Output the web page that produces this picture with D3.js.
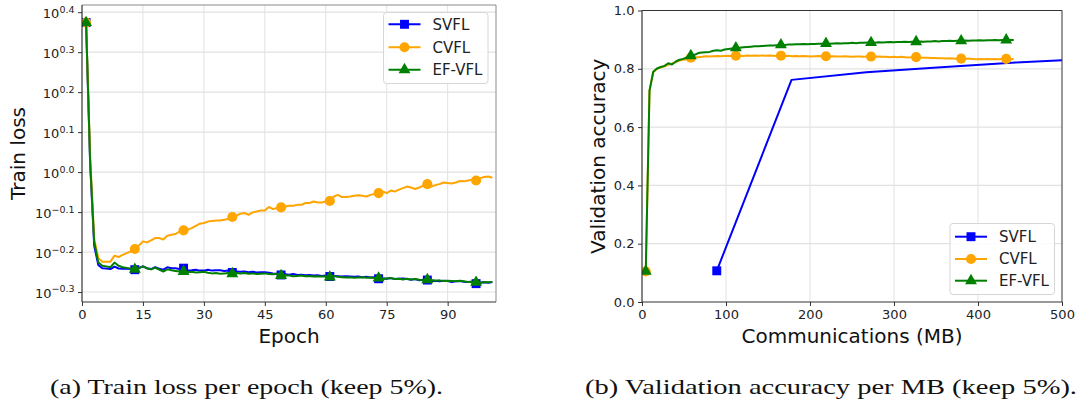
<!DOCTYPE html>
<html>
<head>
<meta charset="utf-8">
<script src="https://cdnjs.cloudflare.com/ajax/libs/d3/7.8.5/d3.min.js"></script>
<style>
  body { margin: 0; background: #fff; }
  svg { display: block; font-family: "DejaVu Sans", sans-serif; }
</style>
</head>
<body>
<div id="chart"></div>
<script>
var svgWidth = 1082;
var svgHeight = 410;

// ---- data ----
var seriesNames = ["SVFL", "CVFL", "EF-VFL"];
var seriesColors = ["#0000ff", "#ffa500", "#008000"];

// (a) train loss per epoch, epochs 1..101
var svflLoss = [2.366, 1.05, 0.655, 0.586, 0.575, 0.574, 0.572, 0.580, 0.574, 0.573,
  0.573, 0.572, 0.570, 0.575, 0.581, 0.575, 0.572, 0.578, 0.573, 0.570,
  0.578, 0.575, 0.575, 0.572, 0.575, 0.567, 0.568, 0.570, 0.567, 0.567,
  0.570, 0.567, 0.568, 0.568, 0.566, 0.567, 0.561, 0.564, 0.563, 0.564,
  0.562, 0.563, 0.561, 0.562, 0.562, 0.560, 0.558, 0.557, 0.553, 0.555,
  0.554, 0.556, 0.553, 0.554, 0.552, 0.553, 0.551, 0.552, 0.550, 0.551,
  0.548, 0.550, 0.549, 0.548, 0.549, 0.548, 0.547, 0.548, 0.546, 0.547,
  0.545, 0.546, 0.541, 0.542, 0.541, 0.543, 0.540, 0.541, 0.542, 0.540,
  0.538, 0.540, 0.536, 0.538, 0.537, 0.534, 0.535, 0.533, 0.535, 0.534,
  0.531, 0.533, 0.534, 0.532, 0.531, 0.532, 0.526, 0.529, 0.530, 0.529, 0.531];

var cvflLoss = [2.366, 1.09, 0.68, 0.61, 0.597, 0.597, 0.597, 0.618, 0.613, 0.621,
  0.627, 0.633, 0.642, 0.655, 0.671, 0.667, 0.675, 0.684, 0.684, 0.678,
  0.693, 0.697, 0.700, 0.710, 0.715, 0.718, 0.724, 0.734, 0.743, 0.746,
  0.752, 0.755, 0.757, 0.757, 0.760, 0.763, 0.772, 0.778, 0.787, 0.790,
  0.782, 0.793, 0.797, 0.802, 0.802, 0.818, 0.808, 0.813, 0.816, 0.820,
  0.824, 0.824, 0.828, 0.828, 0.837, 0.837, 0.844, 0.839, 0.839, 0.844,
  0.847, 0.869, 0.877, 0.866, 0.866, 0.869, 0.873, 0.875, 0.873, 0.869,
  0.877, 0.881, 0.886, 0.894, 0.886, 0.899, 0.894, 0.904, 0.912, 0.920,
  0.915, 0.907, 0.915, 0.925, 0.933, 0.920, 0.928, 0.933, 0.942, 0.939,
  0.936, 0.942, 0.950, 0.948, 0.953, 0.957, 0.953, 0.966, 0.972, 0.975, 0.968];

var efvflLoss = [2.366, 1.07, 0.67, 0.595, 0.583, 0.581, 0.578, 0.594, 0.583, 0.578,
  0.576, 0.573, 0.571, 0.575, 0.581, 0.574, 0.571, 0.577, 0.570, 0.564,
  0.571, 0.568, 0.566, 0.564, 0.564, 0.562, 0.563, 0.561, 0.562, 0.563,
  0.560, 0.558, 0.559, 0.557, 0.558, 0.559, 0.557, 0.559, 0.558, 0.559,
  0.557, 0.558, 0.556, 0.557, 0.558, 0.556, 0.555, 0.557, 0.551, 0.552,
  0.551, 0.549, 0.550, 0.551, 0.549, 0.550, 0.548, 0.549, 0.548, 0.549,
  0.546, 0.550, 0.547, 0.546, 0.545, 0.546, 0.544, 0.545, 0.546, 0.544,
  0.545, 0.543, 0.543, 0.541, 0.542, 0.543, 0.540, 0.541, 0.539, 0.541,
  0.539, 0.540, 0.538, 0.536, 0.538, 0.537, 0.535, 0.536, 0.534, 0.535,
  0.534, 0.533, 0.535, 0.533, 0.531, 0.532, 0.530, 0.529, 0.531, 0.530, 0.531];

// (b) validation accuracy vs communication
var svflMB = [89, 178, 267, 356, 445, 534];
var svflAcc = [0.107, 0.762, 0.788, 0.805, 0.822, 0.834];

var compressedMBPerEpoch = 4.47;  // CVFL and EF-VFL cost per epoch

var cvflAcc = [0.105, 0.725, 0.788, 0.800, 0.805, 0.808, 0.814, 0.818, 0.823, 0.828,
  0.831, 0.833, 0.838, 0.840, 0.840, 0.841, 0.843, 0.842, 0.843, 0.844,
  0.843, 0.844, 0.845, 0.844, 0.845, 0.845, 0.844, 0.846, 0.845, 0.846,
  0.845, 0.846, 0.845, 0.846, 0.845, 0.844, 0.845, 0.844, 0.845, 0.843,
  0.844, 0.843, 0.844, 0.843, 0.842, 0.843, 0.844, 0.843, 0.843, 0.842,
  0.843, 0.842, 0.842, 0.843, 0.842, 0.841, 0.842, 0.842, 0.841, 0.842,
  0.842, 0.841, 0.842, 0.841, 0.841, 0.840, 0.841, 0.840, 0.841, 0.840,
  0.839, 0.840, 0.840, 0.839, 0.838, 0.838, 0.837, 0.837, 0.836, 0.836,
  0.835, 0.836, 0.835, 0.834, 0.835, 0.834, 0.835, 0.834, 0.833, 0.834,
  0.833, 0.834, 0.833, 0.834, 0.833, 0.834, 0.834, 0.833, 0.834];

var efvflAcc = [0.105, 0.725, 0.790, 0.801, 0.806, 0.810, 0.819, 0.815, 0.825, 0.831,
  0.834, 0.840, 0.845, 0.848, 0.854, 0.856, 0.857, 0.858, 0.862, 0.864,
  0.862, 0.866, 0.868, 0.870, 0.872, 0.872, 0.874, 0.875, 0.876, 0.877,
  0.877, 0.878, 0.879, 0.880, 0.880, 0.881, 0.882, 0.882, 0.883, 0.883,
  0.884, 0.884, 0.885, 0.884, 0.885, 0.885, 0.886, 0.886, 0.887, 0.886,
  0.887, 0.888, 0.887, 0.888, 0.888, 0.889, 0.888, 0.889, 0.889, 0.890,
  0.890, 0.889, 0.891, 0.890, 0.891, 0.892, 0.891, 0.892, 0.892, 0.893,
  0.892, 0.893, 0.893, 0.894, 0.893, 0.894, 0.894, 0.895, 0.894, 0.895,
  0.895, 0.896, 0.895, 0.896, 0.896, 0.897, 0.896, 0.897, 0.897, 0.898,
  0.897, 0.898, 0.898, 0.899, 0.898, 0.899, 0.899, 0.899, 0.899];

var lossXTicks = [0, 15, 30, 45, 60, 75, 90];
var lossYExponents = ["0.4", "0.3", "0.2", "0.1", "0.0", "\u22120.1", "\u22120.2", "\u22120.3"];
var lossYTicks = [0.4, 0.3, 0.2, 0.1, 0.0, -0.1, -0.2, -0.3];
var accXTicks = [0, 100, 200, 300, 400, 500];
var accYTicks = [0.0, 0.2, 0.4, 0.6, 0.8, 1.0];

var markEvery = 12;

// ---- svg ----
var svg = d3.select("#chart")
  .append("svg")
  .attr("width", svgWidth)
  .attr("height", svgHeight);

var symbolTypes = [d3.symbolSquare, d3.symbolCircle, d3.symbolTriangle];
var symbolSizes = [80, 80, 62];

function markerPath(i) {
  return d3.symbol().type(symbolTypes[i]).size(symbolSizes[i])();
}

function styleAxis(g) {
  g.selectAll("path.domain").remove();
  g.selectAll(".tick line").attr("stroke", "#333").attr("stroke-width", 1);
  g.selectAll(".tick text").attr("font-size", 13).attr("fill", "#222")
    .attr("font-family", "DejaVu Sans, sans-serif");
}

function drawGrid(g, xs, ys, xTicks, yTicks, box) {
  g.append("g").selectAll("line").data(xTicks).enter().append("line")
    .attr("x1", function(d) { return xs(d); })
    .attr("x2", function(d) { return xs(d); })
    .attr("y1", box.top).attr("y2", box.bottom)
    .attr("stroke", "#e2e2e2").attr("stroke-width", 1);
  g.append("g").selectAll("line").data(yTicks).enter().append("line")
    .attr("x1", box.left).attr("x2", box.right)
    .attr("y1", function(d) { return ys(d); })
    .attr("y2", function(d) { return ys(d); })
    .attr("stroke", "#e2e2e2").attr("stroke-width", 1.2);
}

function drawFrame(g, box, topColor) {
  g.append("line").attr("x1", box.left).attr("x2", box.right).attr("y1", box.top).attr("y2", box.top)
    .attr("stroke", topColor).attr("stroke-width", 1);
  g.append("line").attr("x1", box.right).attr("x2", box.right).attr("y1", box.top).attr("y2", box.bottom)
    .attr("stroke", topColor).attr("stroke-width", 1);
  g.append("line").attr("x1", box.left).attr("x2", box.left).attr("y1", box.top).attr("y2", box.bottom)
    .attr("stroke", "#333").attr("stroke-width", 1.2);
  g.append("line").attr("x1", box.left).attr("x2", box.right).attr("y1", box.bottom).attr("y2", box.bottom)
    .attr("stroke", "#333").attr("stroke-width", 1.2);
}

function drawSeries(g, pts, i, clipId) {
  var line = d3.line()
    .x(function(d) { return d[0]; })
    .y(function(d) { return d[1]; });
  var sg = g.append("g").attr("clip-path", "url(#" + clipId + ")");
  sg.append("path")
    .attr("d", line(pts))
    .attr("fill", "none")
    .attr("stroke", seriesColors[i])
    .attr("stroke-width", 2)
    .attr("stroke-linejoin", "round");
  sg.selectAll("path.mk")
    .data(pts.filter(function(d, k) { return k % markEvery === 0; }))
    .enter().append("path")
    .attr("class", "mk")
    .attr("d", markerPath(i))
    .attr("transform", function(d) { return "translate(" + d[0] + "," + d[1] + ")"; })
    .attr("fill", seriesColors[i]);
}

function drawLegend(g, x, y, w, h, rowYs) {
  g.append("rect")
    .attr("x", x).attr("y", y).attr("width", w).attr("height", h)
    .attr("rx", 3).attr("fill", "#fff").attr("fill-opacity", 0.85)
    .attr("stroke", "#d6d6d6").attr("stroke-width", 1);
  seriesNames.forEach(function(name, i) {
    var cy = rowYs[i];
    g.append("line")
      .attr("x1", x + 5).attr("x2", x + 37).attr("y1", cy).attr("y2", cy)
      .attr("stroke", seriesColors[i]).attr("stroke-width", 2);
    g.append("path")
      .attr("d", markerPath(i))
      .attr("transform", "translate(" + (x + 21) + "," + cy + ")")
      .attr("fill", seriesColors[i]);
    g.append("text")
      .text(name)
      .attr("x", x + 49).attr("y", cy)
      .attr("dy", "0.36em")
      .attr("font-size", 15)
      .attr("fill", "#222");
  });
}

var defs = svg.append("defs");

// ---- (a) train loss ----
var boxA = {left: 82, right: 496, top: 5, bottom: 302};
defs.append("clipPath").attr("id", "clipA").append("rect")
  .attr("x", boxA.left).attr("y", boxA.top - 8)
  .attr("width", boxA.right - boxA.left).attr("height", boxA.bottom - boxA.top + 8);

var xA = d3.scaleLinear().domain([0, 101.9]).range([boxA.left, boxA.right]);
var yA = d3.scaleLog().domain([0.4732, 2.618]).range([boxA.bottom, boxA.top]);
var yAValues = lossYTicks.map(function(e) { return Math.pow(10, e); });

var gA = svg.append("g");
drawGrid(gA, xA, yA, lossXTicks.slice(1), yAValues, boxA);

var lossSeries = [svflLoss, cvflLoss, efvflLoss];
lossSeries.forEach(function(vals, i) {
  var pts = vals.map(function(v, k) { return [xA(k + 1), yA(v)]; });
  drawSeries(gA, pts, i, "clipA");
});

drawFrame(gA, boxA, "#8a8a8a");

var axA = gA.append("g")
  .attr("transform", "translate(0," + boxA.bottom + ")")
  .call(d3.axisBottom(xA).tickValues(lossXTicks).tickSize(4).tickPadding(3.5).tickFormat(d3.format("d")));
styleAxis(axA);

var ayA = gA.append("g")
  .attr("transform", "translate(" + boxA.left + ",0)")
  .call(d3.axisLeft(yA).tickValues(yAValues).tickSize(4).tickPadding(3.5).tickFormat(""));
styleAxis(ayA);
ayA.selectAll(".tick text").each(function(d, k) {
  var t = d3.select(this);
  t.text(null).attr("dy", "0.42em");
  t.append("tspan").text("10");
  t.append("tspan").text(lossYExponents[k]).attr("font-size", 9.5).attr("dy", -5.5);
});

gA.append("text")
  .text("Epoch")
  .attr("x", (boxA.left + boxA.right) / 2).attr("y", 343)
  .attr("text-anchor", "middle").attr("font-size", 20).attr("fill", "#111");

gA.append("text")
  .text("Train loss")
  .attr("transform", "translate(25," + ((boxA.top + boxA.bottom) / 2) + ") rotate(-90)")
  .attr("text-anchor", "middle").attr("font-size", 20).attr("fill", "#111");

drawLegend(gA, 383.5, 12.5, 104.5, 71, [24.3, 47.3, 69.7]);

// ---- (b) validation accuracy ----
var boxB = {left: 642, right: 1062, top: 10.5, bottom: 302};
defs.append("clipPath").attr("id", "clipB").append("rect")
  .attr("x", boxB.left).attr("y", boxB.top)
  .attr("width", boxB.right - boxB.left).attr("height", boxB.bottom - boxB.top);

var xB = d3.scaleLinear().domain([0, 500]).range([boxB.left, boxB.right]);
var yB = d3.scaleLinear().domain([0, 1]).range([boxB.bottom, boxB.top]);

var gB = svg.append("g");
drawGrid(gB, xB, yB, accXTicks.slice(1, -1), accYTicks.slice(1, -1), boxB);

var svflPts = svflAcc.map(function(v, k) { return [xB(svflMB[k]), yB(v)]; });
drawSeries(gB, svflPts, 0, "clipB");
[cvflAcc, efvflAcc].forEach(function(vals, j) {
  var pts = vals.map(function(v, k) { return [xB((k + 1) * compressedMBPerEpoch), yB(v)]; });
  drawSeries(gB, pts, j + 1, "clipB");
});

drawFrame(gB, boxB, "#333");

var axB = gB.append("g")
  .attr("transform", "translate(0," + boxB.bottom + ")")
  .call(d3.axisBottom(xB).tickValues(accXTicks).tickSize(4).tickPadding(3.5).tickFormat(d3.format("d")));
styleAxis(axB);

var ayB = gB.append("g")
  .attr("transform", "translate(" + boxB.left + ",0)")
  .call(d3.axisLeft(yB).tickValues(accYTicks).tickSize(4).tickPadding(3.5).tickFormat(d3.format(".1f")));
styleAxis(ayB);

gB.append("text")
  .text("Communications (MB)")
  .attr("x", (boxB.left + boxB.right) / 2).attr("y", 343)
  .attr("text-anchor", "middle").attr("font-size", 20).attr("fill", "#111");

gB.append("text")
  .text("Validation accuracy")
  .attr("transform", "translate(605," + ((boxB.top + boxB.bottom) / 2) + ") rotate(-90)")
  .attr("text-anchor", "middle").attr("font-size", 20).attr("fill", "#111");

drawLegend(gB, 950, 223.5, 104.5, 71, [236.7, 259, 280.7]);

// ---- captions ----
var captions = [
  {text: "(a) Train loss per epoch (keep 5%).", x: 50, w: 393},
  {text: "(b) Validation accuracy per MB (keep 5%).", x: 585, w: 492}
];
svg.selectAll("text.caption")
  .data(captions)
  .enter().append("text")
  .attr("class", "caption")
  .text(function(d) { return d.text; })
  .attr("x", function(d) { return d.x; })
  .attr("y", 394)
  .attr("textLength", function(d) { return d.w; })
  .attr("lengthAdjust", "spacingAndGlyphs")
  .attr("font-family", "Liberation Serif, serif")
  .attr("font-size", 22)
  .attr("fill", "#111");
</script>
</body>
</html>
